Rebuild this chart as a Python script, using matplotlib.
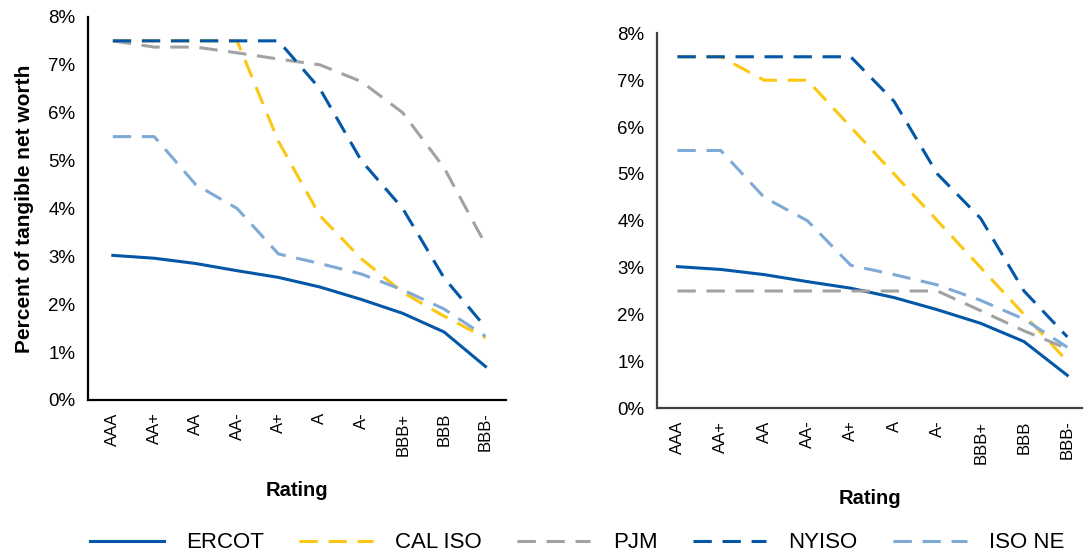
import numpy as np
import matplotlib.pyplot as plt

plt.rcParams['font.family'] = ['Liberation Sans', 'DejaVu Sans']

ratings = ['AAA', 'AA+', 'AA', 'AA-', 'A+', 'A', 'A-', 'BBB+', 'BBB', 'BBB-']

# left panel (%)
ercot_l = [3.02, 2.96, 2.85, 2.70, 2.56, 2.36, 2.10, 1.81, 1.42, 0.70]
caliso_l = [7.5, 7.5, 7.5, 7.5, 5.4, 3.85, 2.95, 2.25, 1.75, 1.3]
pjm_l = [7.5, 7.37, 7.37, 7.25, 7.12, 7.0, 6.65, 6.0, 4.85, 3.25]
nyiso_l = [7.5, 7.5, 7.5, 7.5, 7.5, 6.5, 5.0, 4.0, 2.55, 1.52]
isone_l = [5.5, 5.5, 4.5, 4.0, 3.05, 2.85, 2.63, 2.3, 1.9, 1.33]

# right panel (%)
ercot_r = [3.02, 2.96, 2.85, 2.70, 2.56, 2.36, 2.10, 1.81, 1.42, 0.70]
caliso_r = [7.5, 7.5, 7.0, 7.0, 6.0, 5.0, 4.0, 3.0, 2.0, 1.0]
pjm_r = [2.5, 2.5, 2.5, 2.5, 2.5, 2.5, 2.5, 2.08, 1.65, 1.27]
nyiso_r = [7.5, 7.5, 7.5, 7.5, 7.5, 6.55, 5.0, 4.05, 2.5, 1.52]
isone_r = [5.5, 5.5, 4.5, 4.0, 3.05, 2.85, 2.63, 2.3, 1.9, 1.3]

names = ['ERCOT', 'CAL ISO', 'PJM', 'NYISO', 'ISO NE']
colors = ['#0457a6', '#fcc712', '#a2a2a2', '#0457a6', '#7faad6']
styles = ['-', (0, (6, 3.5)), (0, (6, 3.5)), (0, (6, 3.5)), (0, (6, 3.5))]

fig = plt.figure(figsize=(10.89, 5.56), dpi=100)
ax1 = fig.add_axes([0.0808, 0.2806, 0.384, 0.689])
ax2 = fig.add_axes([0.603, 0.266, 0.391, 0.674])

x = np.arange(len(ratings))


def draw(ax, series, xlim, spine_col):
    lines = []
    for s, c, ls, n in zip(series, colors, styles, names):
        ln, = ax.plot(x, np.array(s) / 100, color=c, linestyle=ls, lw=2.2, label=n)
        lines.append(ln)
    ax.set_xlim(*xlim)
    ax.set_ylim(0, 0.08)
    ax.set_yticks(np.arange(0, 0.081, 0.01))
    ax.set_yticklabels([f'{i}%' for i in range(9)], fontsize=13.5)
    ax.set_xticks(x)
    ax.set_xticklabels(ratings, rotation=90, fontsize=12)
    ax.tick_params(length=0, pad=9)
    for sp in ['top', 'right']:
        ax.spines[sp].set_visible(False)
    for sp in ['left', 'bottom']:
        ax.spines[sp].set_color(spine_col)
        ax.spines[sp].set_linewidth(1.6)
    ax.set_xlabel('Rating', fontsize=14.5, fontweight='bold', labelpad=18)
    return lines


lines = draw(ax1, [ercot_l, caliso_l, pjm_l, nyiso_l, isone_l], (-0.6, 9.5), 'black')
draw(ax2, [ercot_r, caliso_r, pjm_r, nyiso_r, isone_r], (-0.48, 9.35), '#404040')
ax1.set_ylabel('Percent of tangible net worth', fontsize=15, fontweight='bold', labelpad=10)

fig.legend(lines, names, loc='center', bbox_to_anchor=(0.53, 1 - 543 / 556), ncol=5,
           frameon=False, fontsize=16, handlelength=3.3, columnspacing=1.6, handletextpad=1.0)

fig.savefig('out.png', dpi=100)
